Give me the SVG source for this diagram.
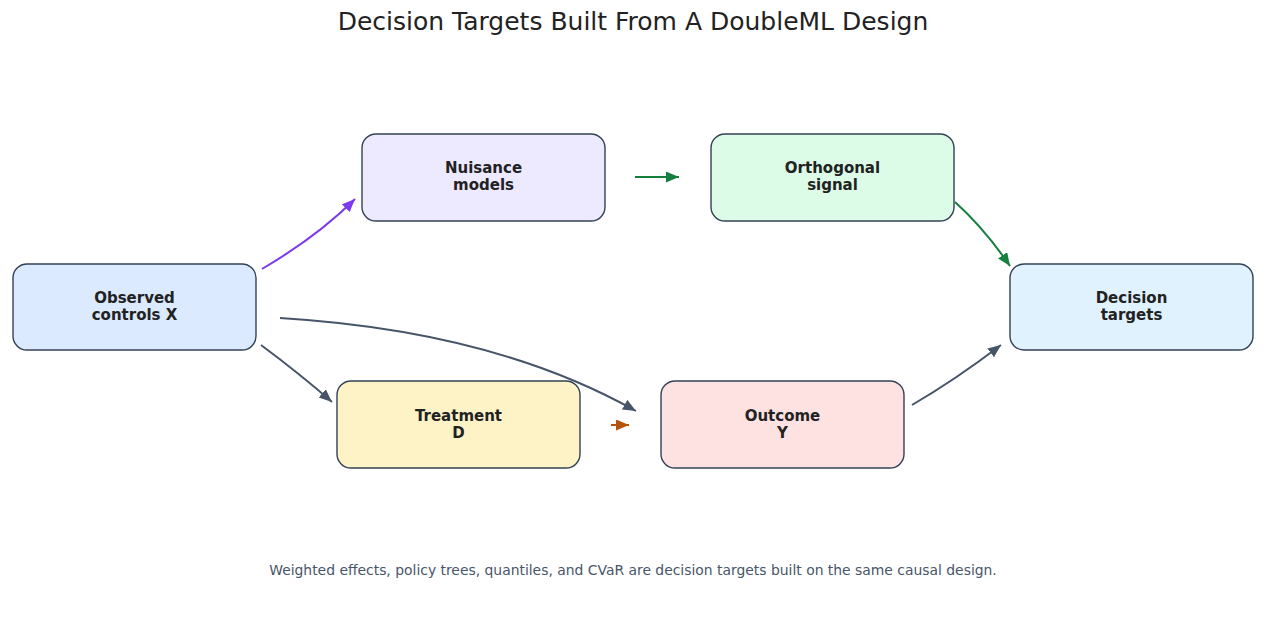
<svg xmlns="http://www.w3.org/2000/svg" width="1266" height="626" viewBox="0 0 1266 626">
<style>
.node rect{stroke:#334155;stroke-width:1.4}
.node text{font-family:"DejaVu Sans",sans-serif;font-weight:bold;font-size:15px;fill:#222222;text-anchor:middle}
.edge{fill:none;stroke-width:2}
.title{font-family:"DejaVu Sans",sans-serif;font-size:25px;fill:#222222;text-anchor:middle}
.caption{font-family:"DejaVu Sans",sans-serif;font-size:13.9px;fill:#475569;text-anchor:middle}
</style>
<defs>
<marker id="mPurple" markerUnits="userSpaceOnUse" markerWidth="15" markerHeight="12" refX="13" refY="5.5" orient="auto"><path d="M0,0 L13,5.5 L0,11 z" fill="#7c3aed"/></marker>
<marker id="mSlate" markerUnits="userSpaceOnUse" markerWidth="15" markerHeight="12" refX="13" refY="5.5" orient="auto"><path d="M0,0 L13,5.5 L0,11 z" fill="#475569"/></marker>
<marker id="mGreen" markerUnits="userSpaceOnUse" markerWidth="15" markerHeight="12" refX="13" refY="5.5" orient="auto"><path d="M0,0 L13,5.5 L0,11 z" fill="#15803d"/></marker>
<marker id="mOrange" markerUnits="userSpaceOnUse" markerWidth="15" markerHeight="12" refX="13" refY="5.5" orient="auto"><path d="M0,0 L13,5.5 L0,11 z" fill="#b45309"/></marker>
</defs>
<rect width="1266" height="626" fill="#ffffff"/>
<text class="title" x="633" y="30">Decision Targets Built From A DoubleML Design</text>
<g id="connectors">
<path class="edge" stroke="#7c3aed" d="M262,269 Q318,236 355,199" marker-end="url(#mPurple)"/>
<path class="edge" stroke="#475569" d="M261,345 Q300,374 332,402" marker-end="url(#mSlate)"/>
<path class="edge" stroke="#475569" d="M280,318 Q494,331 636,411" marker-end="url(#mSlate)"/>
<path class="edge" stroke="#15803d" d="M635,177 L679,177" marker-end="url(#mGreen)"/>
<path class="edge" stroke="#15803d" d="M955,202 Q984,228 1010,266" marker-end="url(#mGreen)"/>
<path class="edge" stroke="#b45309" d="M611,425 L629,425" marker-end="url(#mOrange)"/>
<path class="edge" stroke="#475569" d="M912,405 Q955,380 1001,345" marker-end="url(#mSlate)"/>
</g>
<g id="node-x" class="node"><rect x="13" y="264" width="243" height="86" rx="14" fill="#dbeafe"/><text x="134.5" y="303">Observed</text><text x="134.5" y="320">controls X</text></g>
<g id="node-nuisance" class="node"><rect x="362" y="134" width="243" height="87" rx="14" fill="#ede9fe"/><text x="483.5" y="173">Nuisance</text><text x="483.5" y="190">models</text></g>
<g id="node-orthogonal" class="node"><rect x="711" y="134" width="243" height="87" rx="14" fill="#dcfce7"/><text x="832.5" y="173">Orthogonal</text><text x="832.5" y="190">signal</text></g>
<g id="node-decision" class="node"><rect x="1010" y="264" width="243" height="86" rx="14" fill="#e0f2fe"/><text x="1131.5" y="303">Decision</text><text x="1131.5" y="320">targets</text></g>
<g id="node-treatment" class="node"><rect x="337" y="381" width="243" height="87" rx="14" fill="#fef3c7"/><text x="458.5" y="421">Treatment</text><text x="458.5" y="438">D</text></g>
<g id="node-outcome" class="node"><rect x="661" y="381" width="243" height="87" rx="14" fill="#fee2e2"/><text x="782.5" y="421">Outcome</text><text x="782.5" y="438">Y</text></g>
<text class="caption" x="633" y="575">Weighted effects, policy trees, quantiles, and CVaR are decision targets built on the same causal design.</text>
</svg>
